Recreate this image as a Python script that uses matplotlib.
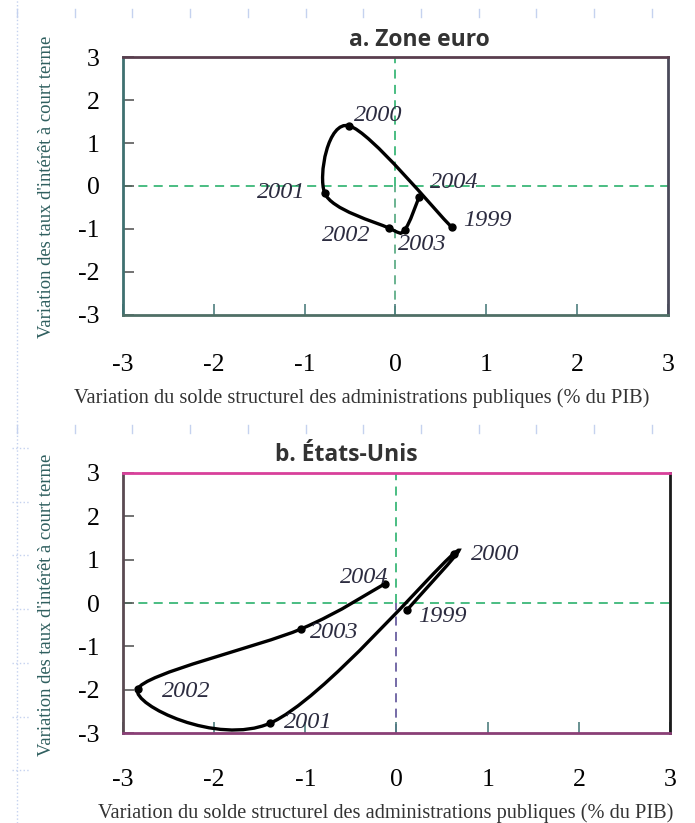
import matplotlib.pyplot as plt
import numpy as np
from matplotlib.path import Path
from matplotlib.patches import PathPatch
from matplotlib.lines import Line2D

years = ['1999', '2000', '2001', '2002', '2003', '2004']

# a. Zone euro
euro_x = [0.62, -0.51, -0.78, -0.07, 0.10, 0.26]
euro_y = [-0.96, 1.40, -0.16, -0.98, -1.02, -0.26]
euro_lbl_x = [1.01, -0.19, -1.26, -0.54, 0.30, 0.65]
euro_lbl_y = [-0.81, 1.65, -0.16, -1.14, -1.37, 0.07]

# b. Etats-Unis
us_x = [0.12, 0.63, -1.39, -2.84, -1.05, -0.13]
us_y = [-0.15, 1.14, -2.77, -1.99, -0.60, 0.44]
us_lbl_x = [0.50, 1.08, -0.97, -2.31, -0.68, -0.35]
us_lbl_y = [-0.30, 1.11, -2.74, -2.03, -0.69, 0.58]

ticks = [-3, -2, -1, 0, 1, 2, 3]
ylabel = "Variation des taux d'intérêt à court terme"
xlabel = "Variation du solde structurel des administrations publiques (% du PIB)"

SERIF = 'Liberation Serif'


def smooth_path(xs, ys):
    # smoothed line through the points (cubic bezier, catmull-rom style)
    pts = np.column_stack([xs, ys])
    ext = np.vstack([pts[0], pts, pts[-1]])
    verts = [pts[0]]
    codes = [Path.MOVETO]
    for i in range(len(pts) - 1):
        p0, p1, p2, p3 = ext[i], ext[i + 1], ext[i + 2], ext[i + 3]
        verts += [p1 + (p2 - p0) / 6, p2 - (p3 - p1) / 6, p2]
        codes += [Path.CURVE4] * 3
    return Path(verts, codes)


def panel(ax, xs, ys, lx, ly, spine_cols, vcol_low, xpad):
    ax.set_xlim(-3, 3)
    ax.set_ylim(-3, 3)
    ax.axhline(0, color='#3cb878', ls=(0, (5, 3.5)), lw=1.3, zorder=1)
    ax.plot([0, 0], [0, 3], color='#3cb878', ls=(0, (5, 3.5)), lw=1.3, zorder=1)
    ax.plot([0, 0], [-3, 0], color=vcol_low, ls=(0, (5, 3.5)), lw=1.3, zorder=1)
    ax.add_patch(PathPatch(smooth_path(xs, ys), fill=False, lw=2.4,
                           edgecolor='black', zorder=3, capstyle='round'))
    ax.plot(xs, ys, 'o', color='black', ms=5, zorder=4)
    for t, x, y in zip(years, lx, ly):
        ax.text(x, y, t, fontsize=17.5, style='italic', family=SERIF,
                color='#2c2c40', ha='center', va='center', zorder=5)
    ax.set_xticks(ticks)
    ax.set_yticks(ticks)
    ax.set_xticklabels([str(t) for t in ticks], family=SERIF, fontsize=18.5)
    ax.set_yticklabels([str(t) for t in ticks], family=SERIF, fontsize=18.5)
    ax.tick_params(axis='x', direction='in', length=8, width=1.2, pad=xpad,
                   color='#4f7f7f')
    ax.tick_params(axis='y', direction='in', length=8, width=1.2, pad=17,
                   color='#5a5a5a')
    for side, c in spine_cols.items():
        ax.spines[side].set_color(c)
        ax.spines[side].set_linewidth(2)


fig = plt.figure(figsize=(6.95, 8.23), dpi=100)

# faint page grid left over from the source
page = '#c5d2ef'
fig.add_artist(Line2D([17 / 695, 17 / 695], [0, 1], color=page, ls=':', lw=1))
for k in range(12):
    xx = (17 + k * 57.7) / 695
    for yy in (13, 429):
        fig.add_artist(Line2D([xx, xx], [1 - (yy - 4) / 823, 1 - (yy + 4) / 823],
                              color=page, lw=1))
for k in range(7):
    yy = 1 - (448 + k * 53.7) / 823
    fig.add_artist(Line2D([12 / 695, 30 / 695], [yy, yy], color=page, ls=':', lw=1))

ax1 = fig.add_axes([0.177, 0.6173, 0.784, 0.3134])
panel(ax1, euro_x, euro_y, euro_lbl_x, euro_lbl_y,
      {'top': '#5a3e4e', 'bottom': '#4f6f66', 'left': '#3f7070', 'right': '#4a4a5a'},
      '#5fae88', 28)
ax2 = fig.add_axes([0.177, 0.109, 0.787, 0.3166])
panel(ax2, us_x, us_y, us_lbl_x, us_lbl_y,
      {'top': '#d8409a', 'bottom': '#8a3f76', 'left': '#5a4a52', 'right': '#1a1a1a'},
      '#6a5fa0', 26)

fig.text(0.604, 0.9514, 'a. Zone euro', family='Open Sans', weight='bold',
         fontsize=16.5, color='#333333', ha='center', va='center')
fig.text(0.499, 0.447, 'b. États-Unis', family='Open Sans', weight='bold',
         fontsize=16.5, color='#333333', ha='center', va='center')

for yc in (187 / 823, 605 / 823):
    fig.text(0.067, 1 - yc, ylabel, rotation=90, family=SERIF, fontsize=13.4,
             color='#2f5f5f', ha='center', va='center')
fig.text(0.520, 1 - 398 / 823, xlabel, family=SERIF, fontsize=14.7,
         color='#333333', ha='center', va='center')
fig.text(0.555, 1 - 813 / 823, xlabel, family=SERIF, fontsize=14.7,
         color='#333333', ha='center', va='center')

fig.savefig('out.png', dpi=100)
